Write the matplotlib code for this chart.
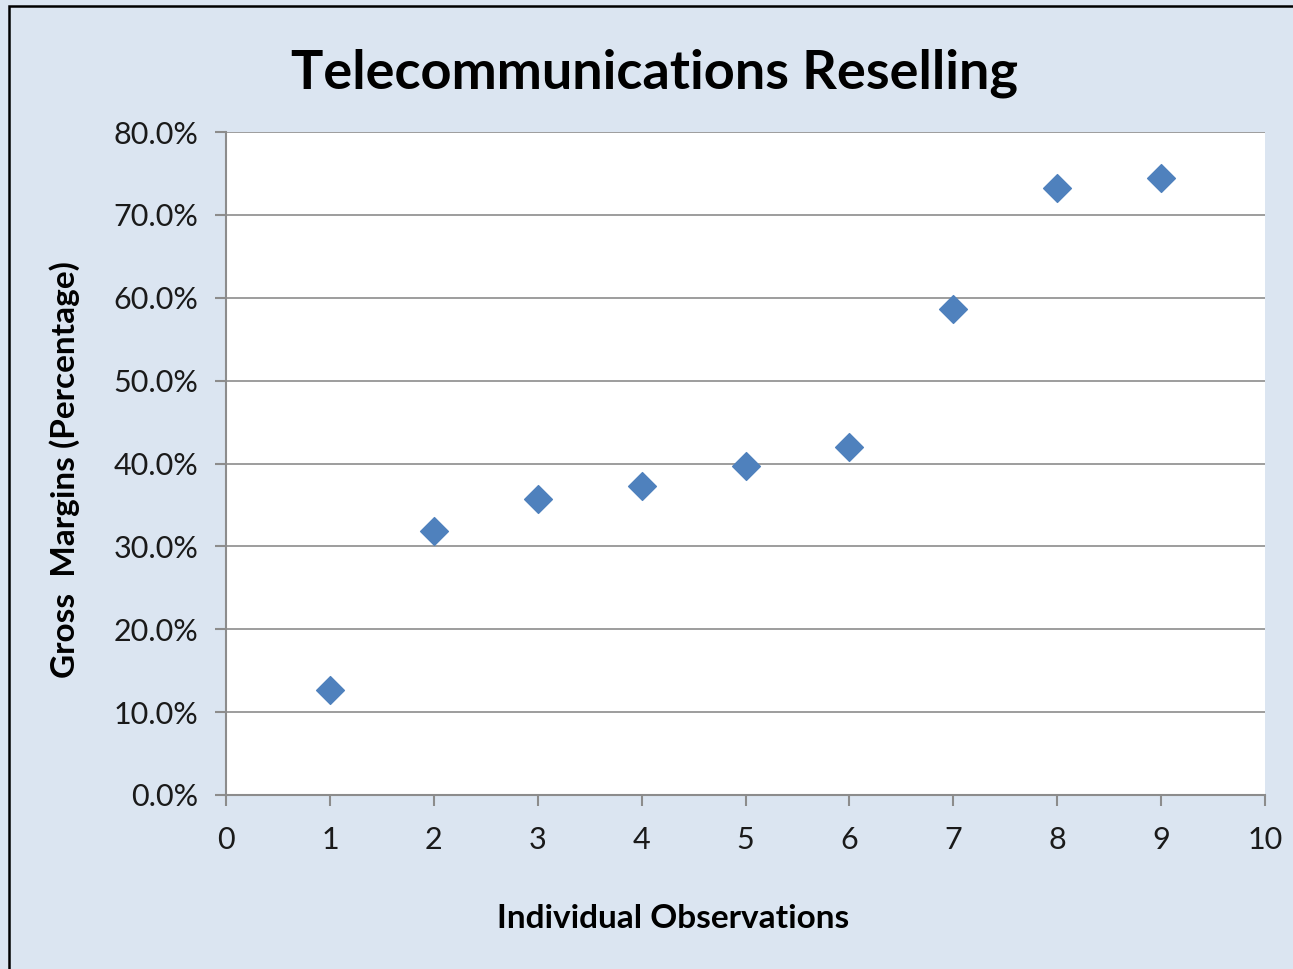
import matplotlib.pyplot as plt
from matplotlib.patches import Rectangle
from matplotlib.ticker import FuncFormatter

# Data: gross margins per observation
observations = [1, 2, 3, 4, 5, 6, 7, 8, 9]
margins = [12.7, 31.8, 35.7, 37.3, 39.7, 42.0, 58.6, 73.2, 74.4]

plt.rcParams['font.family'] = ['Lato', 'DejaVu Sans']

fig = plt.figure(figsize=(12.93, 9.69), dpi=100)
fig.patch.set_facecolor('#DBE5F1')
# chart frame (left and top edges visible)
fig.patches.append(Rectangle((9 / 1293, -0.1), 1.2, 0.1 + 963 / 969,
                             transform=fig.transFigure, fill=False,
                             edgecolor='black', linewidth=1.8))

ax = fig.add_axes([226 / 1293, 174 / 969, 1039 / 1293, 663 / 969])
ax.set_facecolor('white')
ax.scatter(observations, margins, marker='D', s=200, color='#4F81BD', zorder=3)

ax.set_xlim(0, 10)
ax.set_ylim(0, 80)
ax.set_xticks(range(0, 11))
ax.set_yticks(range(0, 81, 10))
ax.yaxis.set_major_formatter(FuncFormatter(lambda v, p: f'{v:.1f}%'))
ax.grid(axis='y', color='#8C8C8C', linewidth=1.2)
ax.set_axisbelow(True)

for side in ['top', 'right']:
    ax.spines[side].set_visible(False)
for side in ['left', 'bottom']:
    ax.spines[side].set_color('#8C8C8C')
    ax.spines[side].set_linewidth(1.5)
ax.tick_params(colors='#8C8C8C', width=1.5, length=8, labelsize=22,
               labelcolor='#1a1a1a')
ax.tick_params(axis='x', pad=14)
ax.tick_params(axis='y', pad=12)

fig.text(655 / 1293, 1 - 73 / 969, 'Telecommunications Reselling',
         ha='center', va='center', fontsize=39, fontweight='bold')
fig.text(673 / 1293, 1 - 918 / 969, 'Individual Observations',
         ha='center', va='center', fontsize=24, fontweight='bold')
fig.text(65 / 1293, 1 - 470 / 969, 'Gross  Margins (Percentage)',
         ha='center', va='center', rotation=90, fontsize=24, fontweight='bold')

fig.savefig('out.png', dpi=100, facecolor=fig.get_facecolor())
